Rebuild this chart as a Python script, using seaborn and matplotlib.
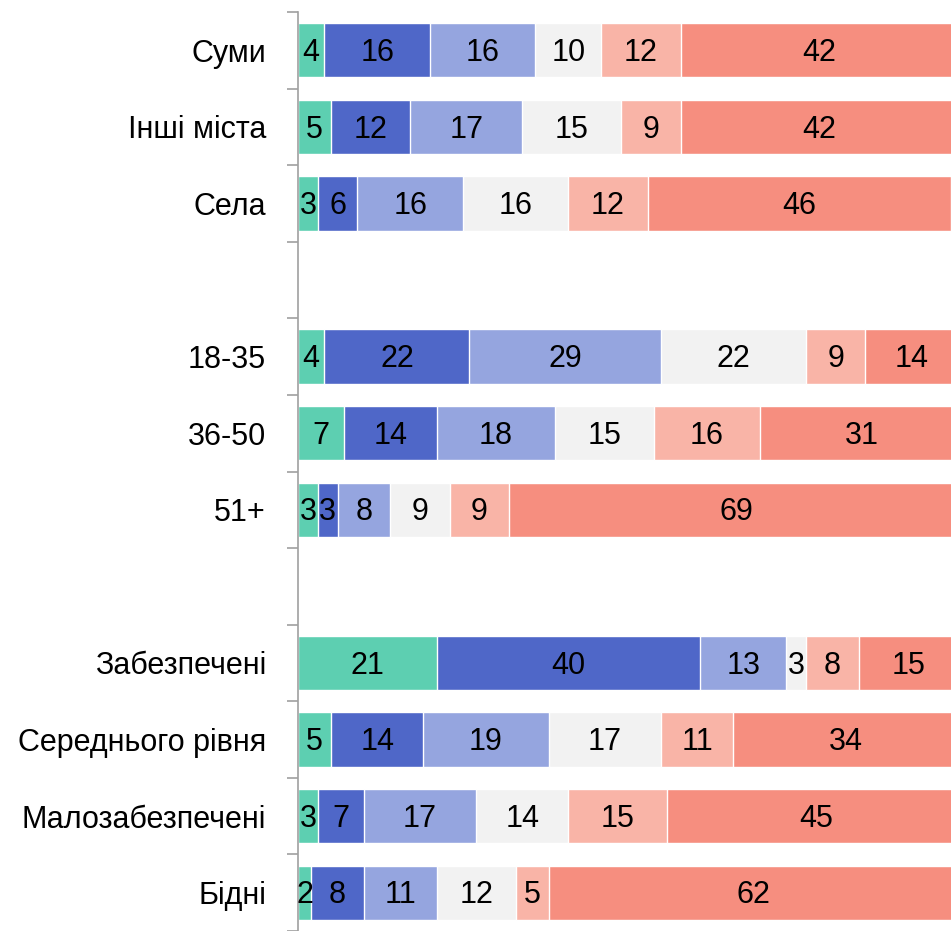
import numpy as np
import pandas as pd
import matplotlib
matplotlib.use("Agg")
import matplotlib.pyplot as plt
import seaborn as sns

# categories (blank strings are the gaps between groups)
categories = ["Суми", "Інші міста", "Села", " ",
              "18-35", "36-50", "51+", "  ",
              "Забезпечені", "Середнього рівня", "Малозабезпечені", "Бідні"]
rows = ["Суми", "Інші міста", "Села", "18-35", "36-50", "51+",
        "Забезпечені", "Середнього рівня", "Малозабезпечені", "Бідні"]

s1 = [4, 5, 3, 4, 7, 3, 21, 5, 3, 2]
s2 = [16, 12, 6, 22, 14, 3, 40, 14, 7, 8]
s3 = [16, 17, 16, 29, 18, 8, 13, 19, 17, 11]
s4 = [10, 15, 16, 22, 15, 9, 3, 17, 14, 12]
s5 = [12, 9, 12, 9, 16, 9, 8, 11, 15, 5]
s6 = [42, 42, 46, 14, 31, 69, 15, 34, 45, 62]

series = [s1, s2, s3, s4, s5, s6]
colors = ["#5DCFB1", "#4F67C8", "#95A5DF", "#F2F2F2", "#F9B4A7", "#F68E7F"]

sns.set_style("white")
plt.rcParams["font.family"] = ["Liberation Sans Narrow", "Liberation Sans", "DejaVu Sans"]

fig = plt.figure(figsize=(9.51, 9.31), dpi=100)
ax = fig.add_axes([298 / 951, 0, 1 - 298 / 951, 1 - 12 / 931])

vals = np.array(series, dtype=float)
cum = np.cumsum(vals, axis=0)

# draw longest first so shorter cumulative bars sit on top
for i in range(len(series) - 1, -1, -1):
    df = pd.DataFrame({"cat": rows, "val": cum[i]})
    sns.barplot(data=df, x="val", y="cat", order=categories, orient="h",
                color=colors[i], saturation=1, width=0.71,
                edgecolor="white", linewidth=1, ax=ax)

for i in range(len(series)):
    for j, r in enumerate(rows):
        y = categories.index(r)
        ax.text(cum[i, j] - vals[i, j] / 2, y + 0.035, f"{int(vals[i, j])}",
                ha="center", va="center", fontsize=22, color="black")

ax.set_xlim(0, 99)
ax.set_ylim(11.44, -0.5)
ax.set_xlabel("")
ax.set_ylabel("")
ax.set_xticks([])
ax.set_yticks(np.arange(-0.5, 12, 1), minor=True)
ax.tick_params(axis="y", which="major", length=0, pad=23, labelsize=22, labelcolor="black")
ax.tick_params(axis="y", which="minor", length=8, width=1.2, color="#A0A0A0", left=True)
for sp in ["top", "right", "bottom"]:
    ax.spines[sp].set_visible(False)
ax.spines["left"].set_color("#A0A0A0")
ax.spines["left"].set_linewidth(1.2)

fig.savefig("out.png", dpi=100)
